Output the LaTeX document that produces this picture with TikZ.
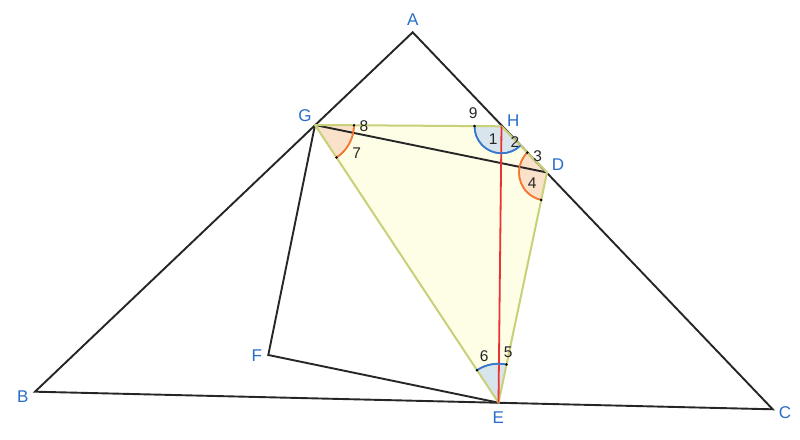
\documentclass[tikz,border=0pt]{standalone}
\usepackage{fontspec}
\setmainfont{Liberation Sans}
\usetikzlibrary{angles,calc}
\definecolor{ptblue}{RGB}{40,110,200}
\definecolor{polyedge}{RGB}{200,208,120}
\definecolor{polyfill}{RGB}{254,253,230}
\definecolor{arcorange}{RGB}{245,120,50}
\definecolor{fillorange}{RGB}{250,226,202}
\definecolor{arcblue}{RGB}{55,120,205}
\definecolor{fillblue}{RGB}{216,229,236}
\definecolor{redline}{RGB}{235,50,50}
\tikzset{
  blackseg/.style={draw=black!85, line width=1.9pt},
  polyseg/.style={draw=polyedge, line width=2pt},
  redseg/.style={draw=redline, line width=1.8pt},
  ptlabel/.style={text=ptblue, font=\fontsize{17}{17}\selectfont, inner sep=0pt},
  numlabel/.style={text=black!85, font=\fontsize{15.5}{15.5}\selectfont, inner sep=0pt},
  orangeangle/.style={draw=arcorange, fill=fillorange, line width=1.6pt},
  blueangle/.style={draw=arcblue, fill=fillblue, line width=1.6pt},
  enddot/.style={fill=black}
}
\begin{document}
\begin{tikzpicture}[x=1pt,y=1pt]
\useasboundingbox (0,0) rectangle (800,439);
\fill[white] (0,0) rectangle (800,439);
% points
\coordinate (A) at (412.7,406.7);
\coordinate (B) at (35,47.3);
\coordinate (C) at (772.7,29.7);
\coordinate (G) at (315,314);
\coordinate (H) at (501.5,312.7);
\coordinate (D) at (547,266.5);
\coordinate (E) at (498.5,36.3);
\coordinate (F) at (268.3,84);
% polygon fill
\fill[polyfill] (G) -- (H) -- (D) -- (E) -- cycle;
% angles
\pic[orangeangle, angle radius=39pt] {angle=E--G--H};
\pic[blueangle, angle radius=27pt] {angle=G--H--D};
\pic[orangeangle, angle radius=28pt] {angle=H--D--E};
\pic[blueangle, angle radius=39pt] {angle=D--E--G};
% black segments
\draw[blackseg] (A) -- (B) -- (C) -- cycle;
\draw[blackseg] (G) -- (F) -- (E);
\draw[blackseg] (G) -- (D);
% polygon edges
\draw[polyseg, line join=round] (G) -- (H) -- (D) -- (E) -- cycle;
% red segment
\draw[redseg] (H) -- (E);
% redraw arcs on top
\pic[draw=arcorange, line width=1.6pt, angle radius=39pt] {angle=E--G--H};
\pic[draw=arcblue, line width=1.6pt, angle radius=27pt] {angle=G--H--D};
\pic[draw=arcorange, line width=1.6pt, angle radius=28pt] {angle=H--D--E};
\pic[draw=arcblue, line width=1.6pt, angle radius=39pt] {angle=D--E--G};
% end dots
\fill[enddot] ($(G)!39pt!(H)$) circle (1.4);
\fill[enddot] ($(G)!39pt!(E)$) circle (1.4);
\fill[enddot] ($(H)!27pt!(G)$) circle (1.4);
\fill[enddot] ($(D)!28pt!(H)$) circle (1.4);
\fill[enddot] ($(D)!28pt!(E)$) circle (1.4);
\fill[enddot] ($(E)!39pt!(G)$) circle (1.4);
\fill[enddot] ($(E)!39pt!(D)$) circle (1.4);
% point labels
\node[ptlabel] (lA) at (412.7,419) {A};
\node[ptlabel] (lB) at (22.7,42.3) {B};
\node[ptlabel] (lC) at (785,26.7) {C};
\node[ptlabel] (lD) at (558,274) {D};
\node[ptlabel] (lE) at (498.3,21.7) {E};
\node[ptlabel] (lF) at (256.7,83.3) {F};
\node[ptlabel] (lG) at (305,323) {G};
\node[ptlabel] (lH) at (513.3,318.3) {H};
% number labels
\node[numlabel] (n1) at (493.3,299.7) {1};
\node[numlabel] (n2) at (515,297.3) {2};
\node[numlabel] (n3) at (537.7,283) {3};
\node[numlabel] (n4) at (532.3,256.3) {4};
\node[numlabel] (n5) at (508.3,86.3) {5};
\node[numlabel] (n6) at (484.3,83) {6};
\node[numlabel] (n7) at (356.7,286.3) {7};
\node[numlabel] (n8) at (364,313) {8};
\node[numlabel] (n9) at (473.3,325.7) {9};
\end{tikzpicture}
\end{document}
